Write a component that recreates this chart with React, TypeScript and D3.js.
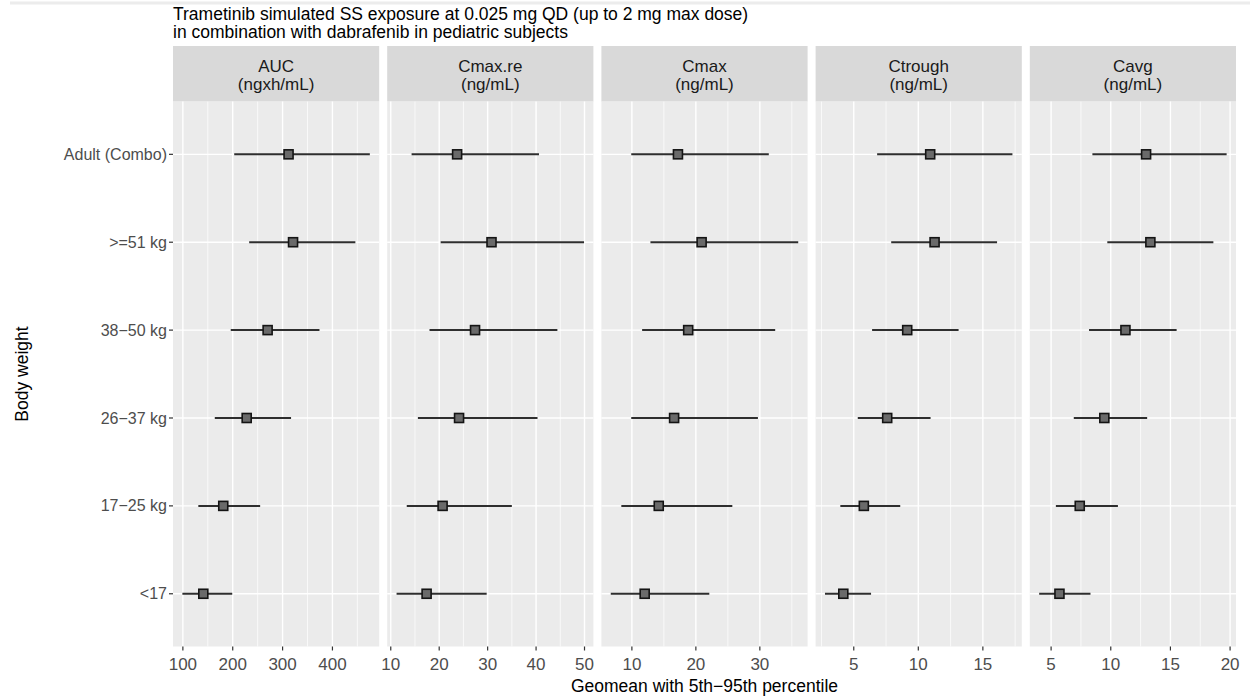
import React from "react";
import * as d3 from "d3";

// Body-weight groups, top to bottom
const categories = ["Adult (Combo)", ">=51 kg", "38\u221250 kg", "26\u221237 kg", "17\u221225 kg", "<17"];

// Exposure metrics (facets) and their units
const metrics = ["AUC", "Cmax.re", "Cmax", "Ctrough", "Cavg"];
const units = ["(ngxh/mL)", "(ng/mL)", "(ng/mL)", "(ng/mL)", "(ng/mL)"];

// Geomean with 5th and 95th percentiles, per body-weight group
const aucGeo = [312, 321, 270, 228, 181, 141];
const aucLo = [203, 233, 196, 164, 131, 99];
const aucHi = [475, 446, 374, 317, 255, 199];

const cmaxReGeo = [23.7, 30.8, 27.4, 24.1, 20.7, 17.4];
const cmaxReLo = [14.3, 20.3, 18.0, 15.6, 13.3, 11.2];
const cmaxReHi = [40.6, 49.9, 44.4, 40.3, 35.0, 29.8];

const cmaxGeo = [17.2, 20.9, 18.8, 16.6, 14.2, 12.0];
const cmaxLo = [9.9, 12.9, 11.6, 9.9, 8.35, 6.7];
const cmaxHi = [31.4, 36.0, 32.4, 29.7, 25.7, 22.1];

const ctroughGeo = [10.92, 11.26, 9.14, 7.59, 5.78, 4.19];
const ctroughLo = [6.81, 7.9, 6.42, 5.31, 3.96, 2.77];
const ctroughHi = [17.29, 16.1, 13.12, 10.95, 8.6, 6.34];

const cavgGeo = [12.96, 13.32, 11.23, 9.46, 7.4, 5.7];
const cavgLo = [8.46, 9.71, 8.18, 6.9, 5.4, 4.0];
const cavgHi = [19.71, 18.6, 15.52, 13.05, 10.6, 8.3];

// Axis breaks per facet
const aucTicks = [100, 200, 300, 400];
const cmaxReTicks = [10, 20, 30, 40, 50];
const cmaxTicks = [10, 20, 30];
const ctroughTicks = [5, 10, 15];
const cavgTicks = [5, 10, 15, 20];

const titleLines = [
  "Trametinib simulated SS exposure at 0.025 mg QD (up to 2 mg max dose)",
  "in combination with dabrafenib in pediatric subjects",
];
const xTitle = "Geomean with 5th\u221295th percentile";
const yTitle = "Body weight";

const panels = [
  { geo: aucGeo, lo: aucLo, hi: aucHi, ticks: aucTicks },
  { geo: cmaxReGeo, lo: cmaxReLo, hi: cmaxReHi, ticks: cmaxReTicks },
  { geo: cmaxGeo, lo: cmaxLo, hi: cmaxHi, ticks: cmaxTicks },
  { geo: ctroughGeo, lo: ctroughLo, hi: ctroughHi, ticks: ctroughTicks },
  { geo: cavgGeo, lo: cavgLo, hi: cavgHi, ticks: cavgTicks },
].map((p, i) => ({ ...p, name: metrics[i], unit: units[i] }));

const W = 1250;
const H = 698;
const plotLeft = 173;
const plotRight = 1236;
const gap = 8;
const stripTop = 46;
const panelTop = 101.6;
const panelBottom = 646.5;
const FONT = "'Liberation Sans', Arial, Helvetica, sans-serif";

export default function App() {
  const panelW = (plotRight - plotLeft - gap * (panels.length - 1)) / panels.length;
  const y = d3.scalePoint<string>().domain(categories).range([panelTop, panelBottom]).padding(0.6);

  return (
    <svg
      width={W}
      height={H}
      viewBox={`0 0 ${W} ${H}`}
      style={{ position: "absolute", left: 0, top: 0, background: "#ffffff" }}
      fontFamily={FONT}
    >
      <rect x={0} y={0} width={W} height={H} fill="#ffffff" />
      <line x1={10} x2={W} y1={3} y2={3} stroke="#ececec" strokeWidth={3} />

      {titleLines.map((t, i) => (
        <text key={i} x={plotLeft} y={20 + i * 18} fontSize={17.5} fill="#000">
          {t}
        </text>
      ))}

      {panels.map((p, pi) => {
        const x0 = plotLeft + pi * (panelW + gap);
        const lo = d3.min(p.lo) as number;
        const hi = d3.max(p.hi) as number;
        const pad = (hi - lo) * 0.05;
        const x = d3.scaleLinear().domain([lo - pad, hi + pad]).range([x0, x0 + panelW]);
        const [d0, d1] = x.domain();
        const step = p.ticks[1] - p.ticks[0];
        const minor = [p.ticks[0] - step / 2, ...p.ticks.map((t) => t + step / 2)].filter(
          (v) => v >= d0 && v <= d1
        );
        return (
          <g key={p.name}>
            {/* strip */}
            <rect x={x0} y={stripTop} width={panelW} height={panelTop - stripTop} fill="#d9d9d9" />
            <text x={x0 + panelW / 2} y={72} textAnchor="middle" fontSize={17} fill="#1a1a1a">
              {p.name}
            </text>
            <text x={x0 + panelW / 2} y={90} textAnchor="middle" fontSize={17} fill="#1a1a1a">
              {p.unit}
            </text>

            {/* panel */}
            <rect x={x0} y={panelTop} width={panelW} height={panelBottom - panelTop} fill="#ebebeb" />
            {minor.map((v) => (
              <line key={"mn" + v} x1={x(v)} x2={x(v)} y1={panelTop} y2={panelBottom} stroke="#fff" strokeWidth={0.7} />
            ))}
            {p.ticks.map((v) => (
              <line key={"mj" + v} x1={x(v)} x2={x(v)} y1={panelTop} y2={panelBottom} stroke="#fff" strokeWidth={1.4} />
            ))}
            {categories.map((c) => (
              <line key={"h" + c} x1={x0} x2={x0 + panelW} y1={y(c)} y2={y(c)} stroke="#fff" strokeWidth={1.4} />
            ))}

            {/* intervals and geomeans */}
            {categories.map((c, i) => (
              <g key={"m" + c}>
                <line x1={x(p.lo[i])} x2={x(p.hi[i])} y1={y(c)} y2={y(c)} stroke="#2e2e2e" strokeWidth={2} />
                <rect
                  x={x(p.geo[i]) - 4.5}
                  y={(y(c) as number) - 4.5}
                  width={9}
                  height={9}
                  fill="#6a6a6a"
                  stroke="#141414"
                  strokeWidth={1.6}
                />
              </g>
            ))}

            {/* x axis */}
            {p.ticks.map((v) => (
              <g key={"xt" + v}>
                <line x1={x(v)} x2={x(v)} y1={panelBottom} y2={panelBottom + 4} stroke="#333" strokeWidth={1.2} />
                <text x={x(v)} y={669.5} textAnchor="middle" fontSize={17} fill="#4d4d4d">
                  {v}
                </text>
              </g>
            ))}
          </g>
        );
      })}

      {/* y axis */}
      {categories.map((c) => (
        <g key={"yt" + c}>
          <line x1={plotLeft - 4} x2={plotLeft} y1={y(c)} y2={y(c)} stroke="#333" strokeWidth={1.2} />
          <text x={plotLeft - 6} y={y(c)} dy="0.35em" textAnchor="end" fontSize={16} fill="#4d4d4d">
            {c}
          </text>
        </g>
      ))}

      <text x={(plotLeft + plotRight) / 2} y={692} textAnchor="middle" fontSize={17.5} fill="#000">
        {xTitle}
      </text>
      <text
        transform={`translate(28,${(panelTop + panelBottom) / 2}) rotate(-90)`}
        textAnchor="middle"
        fontSize={17.5}
        fill="#000"
      >
        {yTitle}
      </text>
    </svg>
  );
}
